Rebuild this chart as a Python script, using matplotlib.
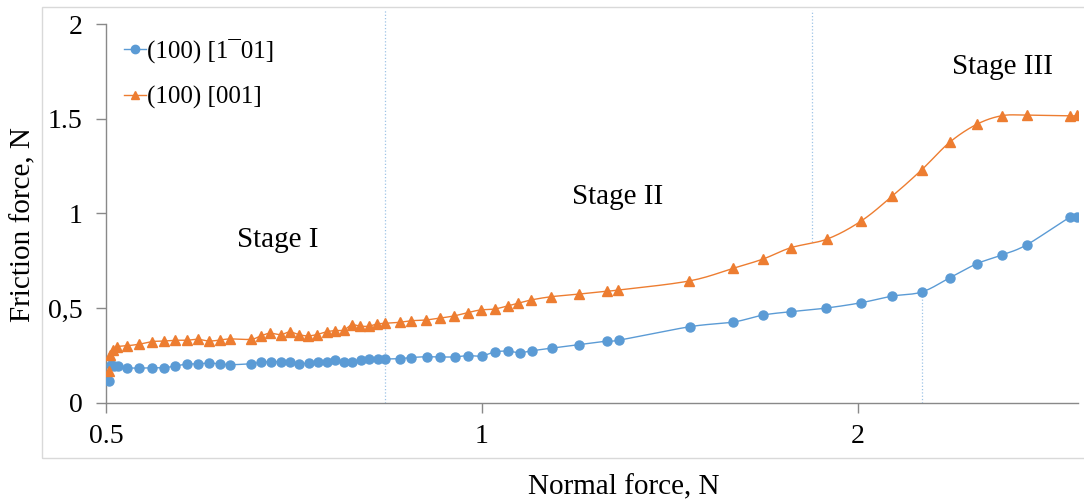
import numpy as np
import matplotlib
matplotlib.use("Agg")
import matplotlib.pyplot as plt
from matplotlib.patches import Rectangle

# normal force (N) and friction force (N)
blue_x = [0.5025, 0.5046, 0.5074, 0.5112, 0.5197, 0.5313, 0.5442, 0.5563, 0.5677,
          0.5804, 0.5923, 0.6044, 0.6168, 0.6282, 0.6530, 0.6651, 0.6775, 0.6901,
          0.7016, 0.7133, 0.7266, 0.7387, 0.7511, 0.7622, 0.7749, 0.7864, 0.7996,
          0.8114, 0.8250, 0.8357, 0.8591, 0.8767, 0.9029, 0.9248, 0.9506, 0.9737,
          0.9991, 1.0233, 1.0481, 1.0715, 1.0974, 1.1385, 1.1966, 1.2599, 1.2880,
          1.4680, 1.5889, 1.6790, 1.7679, 1.8856, 2.0111, 2.1292, 2.2500, 2.3690,
          2.4898, 2.6070, 2.7298, 2.9550, 2.9950]
blue_y = [0.116, 0.200, 0.195, 0.195, 0.186, 0.184, 0.186, 0.186, 0.195,
          0.206, 0.206, 0.211, 0.206, 0.202, 0.207, 0.215, 0.218, 0.218,
          0.215, 0.207, 0.211, 0.216, 0.216, 0.226, 0.215, 0.215, 0.226,
          0.232, 0.232, 0.232, 0.234, 0.240, 0.244, 0.243, 0.243, 0.250,
          0.248, 0.269, 0.274, 0.265, 0.276, 0.290, 0.308, 0.327, 0.332,
          0.403, 0.427, 0.464, 0.482, 0.501, 0.529, 0.564, 0.586, 0.661,
          0.735, 0.781, 0.835, 0.980, 0.980]

orange_x = [0.5025, 0.5037, 0.5065, 0.5102, 0.5197, 0.5313, 0.5442, 0.5563, 0.5677,
            0.5804, 0.5923, 0.6044, 0.6168, 0.6282, 0.6530, 0.6651, 0.6762, 0.6901,
            0.7016, 0.7133, 0.7252, 0.7374, 0.7511, 0.7622, 0.7749, 0.7864, 0.7981,
            0.8114, 0.8235, 0.8357, 0.8591, 0.8767, 0.9012, 0.9248, 0.9489, 0.9737,
            0.9972, 1.0233, 1.0481, 1.0695, 1.0954, 1.1364, 1.1966, 1.2599, 1.2857,
            1.4653, 1.5889, 1.6790, 1.7679, 1.8890, 2.0111, 2.1292, 2.2500, 2.3690,
            2.4898, 2.6070, 2.7298, 2.9550, 2.9950]
orange_y = [0.171, 0.253, 0.280, 0.297, 0.302, 0.310, 0.324, 0.327, 0.331,
            0.331, 0.336, 0.327, 0.332, 0.338, 0.336, 0.354, 0.368, 0.361,
            0.375, 0.361, 0.354, 0.361, 0.376, 0.382, 0.385, 0.412, 0.406,
            0.405, 0.417, 0.420, 0.426, 0.434, 0.438, 0.448, 0.459, 0.477,
            0.491, 0.496, 0.512, 0.527, 0.544, 0.561, 0.575, 0.591, 0.596,
            0.644, 0.711, 0.760, 0.820, 0.865, 0.960, 1.091, 1.232, 1.377,
            1.471, 1.516, 1.519, 1.515, 1.518]

labels = ["(100) [1\u00af01]", "(100) [001]"]
stage_names = ["Stage I", "Stage II", "Stage III"]
stage_pos = [(0.686, 0.86), (1.283, 1.087), (2.612, 1.773)]
boundaries = [0.8357, 1.8376, 2.25]

yticks = [0, 0.5, 1, 1.5, 2]
ytick_labels = ["0", "0,5", "1", "1.5", "2"]
xticks = [0.5, 1, 2]
xtick_labels = ["0.5", "1", "2"]

BLUE = "#5B9BD5"
ORANGE = "#ED7D31"
GRID = "#9DC3E6"


def smooth(x, y, n=12):
    # catmull-rom through the points, in log-x space (like excel's smoothed line)
    lx = np.log(np.asarray(x))
    y = np.asarray(y, float)
    px = np.concatenate([[lx[0]], lx, [lx[-1]]])
    py = np.concatenate([[y[0]], y, [y[-1]]])
    outx, outy = [], []
    t = np.linspace(0, 1, n, endpoint=False)
    for i in range(1, len(px) - 2):
        x0, x1, x2, x3 = px[i - 1:i + 3]
        y0, y1, y2, y3 = py[i - 1:i + 3]
        bx = [x1, x1 + (x2 - x0) / 6, x2 - (x3 - x1) / 6, x2]
        by = [y1, y1 + (y2 - y0) / 6, y2 - (y3 - y1) / 6, y2]
        b = [(1 - t) ** 3, 3 * (1 - t) ** 2 * t, 3 * (1 - t) * t ** 2, t ** 3]
        outx.extend(sum(bb * c for bb, c in zip(b, bx)))
        outy.extend(sum(bb * c for bb, c in zip(b, by)))
    outx.append(lx[-1])
    outy.append(y[-1])
    return np.exp(outx), np.array(outy)


plt.rcParams['font.family'] = ['Liberation Serif', 'DejaVu Serif']

fig = plt.figure(figsize=(10.84, 4.99), dpi=100)
ax = fig.add_axes([0.0978, 0.1924, 0.8967, 0.7595])

fig.add_artist(Rectangle((42 / 1084, 1 - 458 / 499), 1.2, 451 / 499,
                         transform=fig.transFigure, fill=False,
                         ec="#d9d9d9", lw=1.0))

sx, sy = smooth(blue_x, blue_y)
ax.plot(sx, sy, color=BLUE, lw=1.0, zorder=3)
ax.plot(blue_x, blue_y, "o", color=BLUE, ms=6.5, zorder=4)
ax.plot([], [], "-o", color=BLUE, ms=6, lw=1.0, label=labels[0])

sx, sy = smooth(orange_x, orange_y)
ax.plot(sx, sy, color=ORANGE, lw=1.0, zorder=3)
ax.plot(orange_x, orange_y, "^", color=ORANGE, ms=7, zorder=4)
ax.plot([], [], "-^", color=ORANGE, ms=5.5, lw=1.0, label=labels[1])

# stage boundaries
ax.axvline(boundaries[0], 0, 1.037, color=GRID, ls=":", lw=0.9, clip_on=False)
ax.axvline(boundaries[1], 0.85 / 2, 1.037, color=GRID, ls=":", lw=0.9, clip_on=False)
ax.axvline(boundaries[2], 0, blue_y[blue_x.index(2.25)] / 2, color=GRID, ls=":", lw=0.9)

for name, (x, y) in zip(stage_names, stage_pos):
    ax.text(x, y, name, fontsize=21, ha="center", va="center")

ax.set_xscale("log")
ax.set_xlim(0.5, 3.0)
ax.set_ylim(0, 2)
ax.set_xticks(xticks)
ax.set_xticklabels(xtick_labels)
ax.xaxis.set_minor_locator(matplotlib.ticker.NullLocator())
ax.set_yticks(yticks)
ax.set_yticklabels(ytick_labels)
ax.tick_params(axis="both", direction="out", length=7, width=1, color="#898989",
               labelsize=20, pad=8)
ax.tick_params(axis="y", pad=10)
for s in ["top", "right"]:
    ax.spines[s].set_visible(False)
for s in ["left", "bottom"]:
    ax.spines[s].set_color("#898989")
    ax.spines[s].set_linewidth(1)

ax.set_xlabel("Normal force, N", fontsize=21)
ax.set_ylabel("Friction force, N", fontsize=21)
ax.xaxis.set_label_coords(0.533, -0.188)
ax.yaxis.set_label_coords(-0.072, 0.47)

ax.legend(loc="upper left", bbox_to_anchor=(0.018, 0.962), frameon=False, fontsize=18,
          handlelength=0.9, handletextpad=0.05, labelspacing=0.92,
          borderaxespad=0, borderpad=0)

fig.savefig("out.png", dpi=100)
